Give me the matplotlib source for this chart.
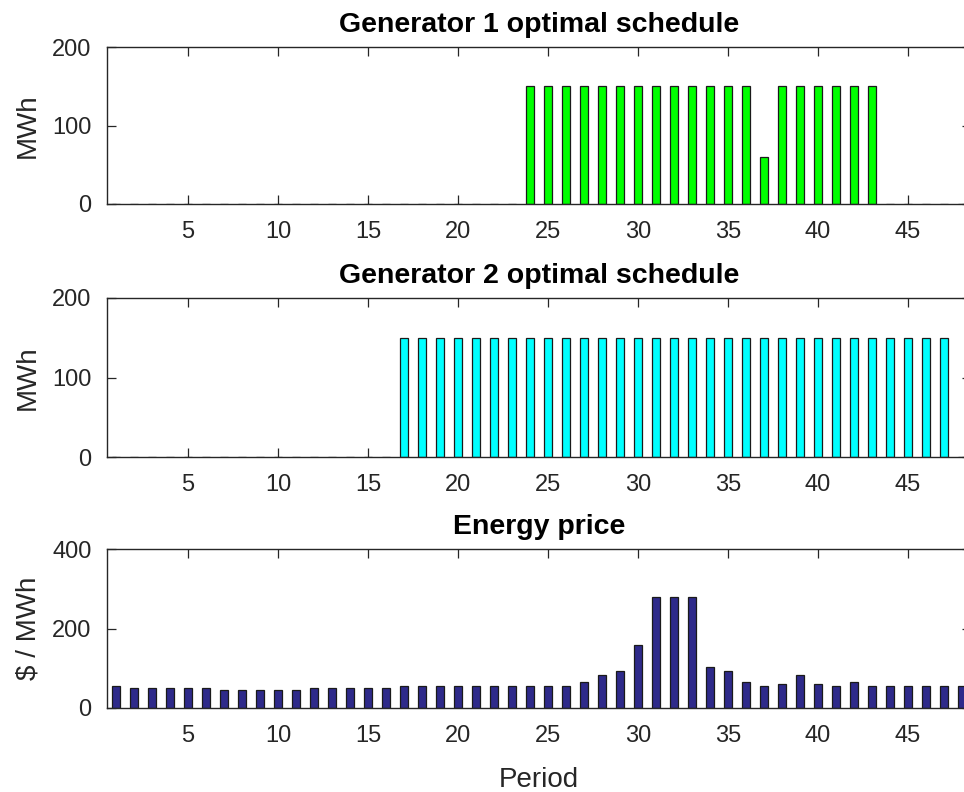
import matplotlib
matplotlib.use('Agg')
import matplotlib.pyplot as plt

periods = list(range(1, 49))
gen1 = [0, 0, 0, 0, 0, 0, 0, 0, 0, 0, 0, 0, 0, 0, 0, 0, 0, 0, 0, 0, 0, 0, 0,
        150, 150, 150, 150, 150, 150, 150, 150, 150, 150, 150, 150, 150,
        60, 150, 150, 150, 150, 150, 150, 0, 0, 0, 0, 0]
gen2 = [0, 0, 0, 0, 0, 0, 0, 0, 0, 0, 0, 0, 0, 0, 0, 0,
        150, 150, 150, 150, 150, 150, 150, 150, 150, 150, 150, 150, 150, 150, 150, 150,
        150, 150, 150, 150, 150, 150, 150, 150, 150, 150, 150, 150, 150, 150, 150, 0]
price = [56, 51, 51, 51, 51, 51, 46, 46, 46, 46, 46, 51, 51, 51, 51, 51,
         56, 56, 56, 56, 56, 56, 56, 56, 56, 56, 66, 82, 92, 158, 280, 280,
         280, 102, 92, 66, 56, 61, 82, 61, 56, 66, 56, 56, 56, 56, 56, 56]
xticks = [5, 10, 15, 20, 25, 30, 35, 40, 45]

plt.rcParams['font.family'] = ['Liberation Sans', 'DejaVu Sans']

W, H = 964, 792
fig = plt.figure(figsize=(W / 100, H / 100), dpi=100)

axcol = '#262626'
panels = [
    (gen1, '#00FF00', 'Generator 1 optimal schedule', 'MWh', [0, 100, 200], 200, 47, 204, None),
    (gen2, '#00FFFF', 'Generator 2 optimal schedule', 'MWh', [0, 100, 200], 200, 298, 457, None),
    (price, '#2E2A8A', 'Energy price', '$ / MWh', [0, 200, 400], 400, 549, 708, 'Period'),
]
left_px, right_px = 107, 971
for vals, col, title, ylab, yt, ymax, top_px, bot_px, xlab in panels:
    ax = fig.add_axes([left_px / W, (H - bot_px) / H, (right_px - left_px) / W, (bot_px - top_px) / H])
    ax.bar(periods, vals, width=0.45, color=col, edgecolor='#1a1a1a', linewidth=0.9, zorder=2)
    ax.set_xlim(0.5, 48.5)
    ax.set_ylim(0, ymax)
    ax.set_xticks(xticks)
    ax.set_yticks(yt)
    ax.tick_params(direction='in', length=6.2, width=0.9, colors=axcol, labelsize=17,
                   top=True, right=True, pad=11)
    ax.tick_params(axis='x', pad=12.5)
    for s in ax.spines.values():
        s.set_color(axcol)
        s.set_linewidth(1.0)
        s.set_zorder(3)
    ax.set_title(title, fontsize=20.5, fontweight='bold', color='black', pad=11)
    ax.set_ylabel(ylab, fontsize=20, color=axcol, labelpad=8)
    if xlab:
        ax.set_xlabel(xlab, fontsize=20, color=axcol, labelpad=14)

fig.savefig('out.png', dpi=100)
